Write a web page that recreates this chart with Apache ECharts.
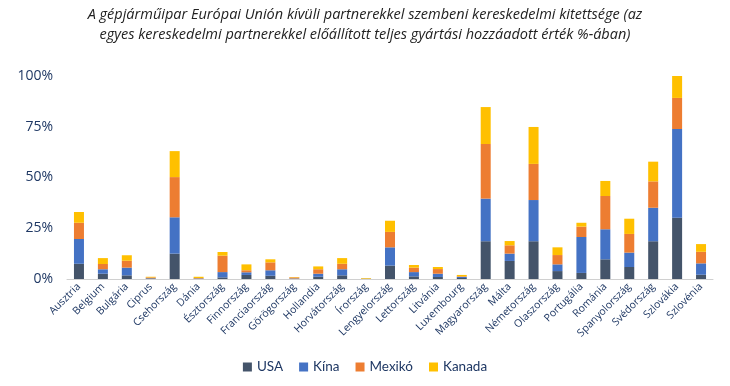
<!DOCTYPE html>
<html><head><meta charset="utf-8">
<script src="https://cdn.jsdelivr.net/npm/echarts@6/dist/echarts.min.js"></script>
<style>html,body{margin:0;padding:0;background:#fff}#c{width:730px;height:386px}</style>
</head><body><div id="c"></div>
<script>
const categories = ["Ausztria","Belgium","Bulgária","Ciprus","Csehország","Dánia","Észtország","Finnország","Franciaország","Görögország","Hollandia","Horvátország","Írország","Lengyelország","Lettország","Litvánia","Luxembourg","Magyarország","Málta","Németország","Olaszország","Portugália","Románia","Spanyolország","Svédország","Szlovákia","Szlovénia"];
const usa    = [7.5,2.6,1.8,0.3,12.5,0.2,0.8,2.0,1.6,0.2,1.1,1.8,0.1,6.6,1.3,1.0,0.5,18.6,8.9,18.6,3.9,3.0,9.7,5.9,18.6,30.2,2.1];
const kina   = [12.2,2.2,3.8,0.1,17.9,0.1,2.6,1.3,2.7,0.1,1.5,3.0,0.05,9.0,2.1,1.6,0.5,21.0,3.6,20.3,3.3,17.7,14.8,7.1,16.5,43.7,5.6];
const mexiko = [8.0,2.6,3.4,0.4,19.8,0.2,8.1,1.0,3.9,0.5,2.2,2.7,0.05,7.6,2.2,2.3,0.3,26.9,4.1,17.8,4.6,5.1,16.4,9.2,13.0,15.3,5.7];
const kanada = [5.3,2.9,2.7,0.3,12.8,0.6,1.8,2.9,1.5,0.2,1.4,2.8,0.3,5.5,1.3,1.0,0.7,18.2,2.1,18.2,3.8,1.9,7.4,7.5,9.7,10.8,3.8];
const yTicks = [0,25,50,75,100];

const txt = '#1F3864';
const chart = echarts.init(document.getElementById('c'));
function s(name, data, color){
  return {name, type:'bar', stack:'t', data, barWidth:10, itemStyle:{color}, emphasis:{disabled:true}};
}
chart.setOption({
  animation:false,
  title:{text:'A gépjárműipar Európai Unión kívüli partnerekkel szembeni kereskedelmi kitettsége (az\negyes kereskedelmi partnerekkel előállított teljes gyártási hozzáadott érték %-ában)',
    left:'center', top:0,
    textStyle:{fontFamily:'Open Sans', fontStyle:'italic', fontWeight:'normal', fontSize:14.5, color:'#222', lineHeight:20}},
  legend:{bottom:7, left:'center', itemWidth:9, itemHeight:9, itemGap:16, icon:'rect',
    textStyle:{color:txt, fontSize:13.5, fontFamily:'Lato'},
    data:['USA','Kína','Mexikó','Kanada']},
  grid:{left:67, right:17, top:76, bottom:107},
  xAxis:{type:'category', data:categories,
    axisLine:{lineStyle:{color:'#D0D0D0'}}, axisTick:{show:false},
    axisLabel:{rotate:45, interval:0, color:txt, fontSize:10.5, fontFamily:'Open Sans', margin:6}},
  yAxis:{type:'value', min:0, max:100, interval:25,
    splitLine:{show:false}, axisLine:{show:false}, axisTick:{show:false},
    axisLabel:{formatter:v=>yTicks.includes(v)?v+'%':'', color:txt, fontSize:14, fontFamily:'Open Sans', margin:14}},
  series:[s('USA',usa,'#44546A'), s('Kína',kina,'#4472C4'), s('Mexikó',mexiko,'#ED7D31'), s('Kanada',kanada,'#FFC000')]
});
</script></body></html>
